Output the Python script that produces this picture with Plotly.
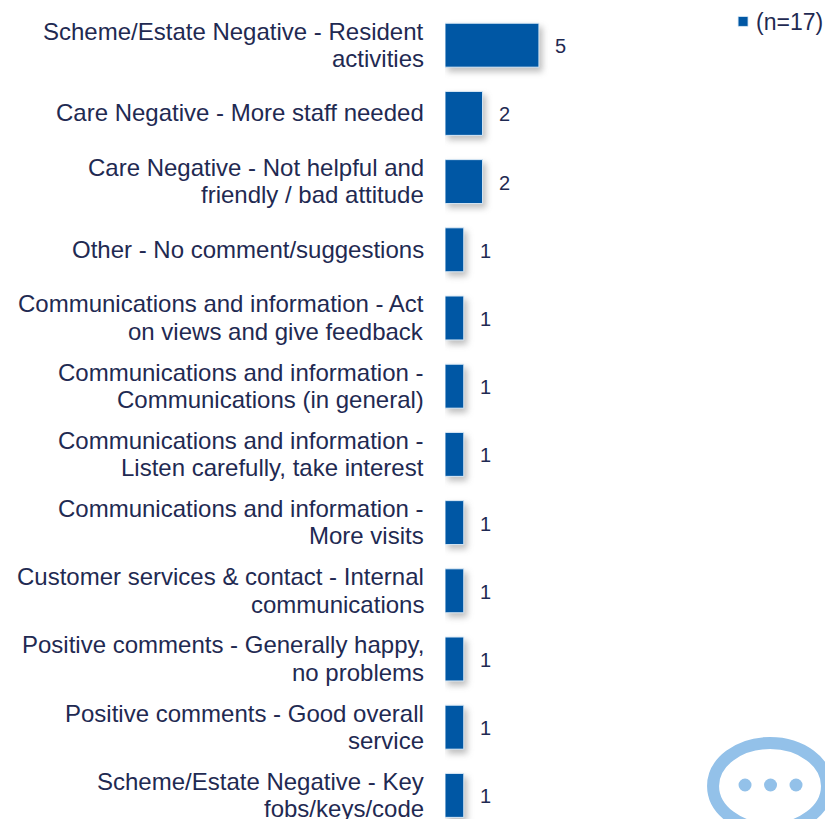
import plotly.graph_objects as go

categories = [
    "Scheme/Estate Negative - Resident<br>activities",
    "Care Negative - More staff needed",
    "Care Negative - Not helpful and<br>friendly / bad attitude",
    "Other - No comment/suggestions",
    "Communications and information - Act<br>on views and give feedback",
    "Communications and information -<br>Communications (in general)",
    "Communications and information -<br>Listen carefully, take interest",
    "Communications and information -<br>More visits",
    "Customer services & contact - Internal<br>communications",
    "Positive comments - Generally happy,<br>no problems",
    "Positive comments - Good overall<br>service",
    "Scheme/Estate Negative - Key<br>fobs/keys/code",
]
values = [5, 2, 2, 1, 1, 1, 1, 1, 1, 1, 1, 1]
series_name = "(n=17)"

NAVY = "#1f2a52"
BLUE = "#0057a4"
BUBBLE = "#93c1e9"
W, H = 825, 819
L = 444.8
UNIT = 18.8
STEP = 68.2
FIRST = 45.2
LINE = 27.4

fig = go.Figure(go.Bar(
    x=values, y=categories, orientation="h", name=series_name,
    width=0.645, marker=dict(color=BLUE, line=dict(color="#dcebf7", width=1)),
    showlegend=True,
))

annotations = [
    dict(x=v, y=c, xref="x", yref="y", text=str(v), showarrow=False,
         xanchor="left", xshift=14.5, yshift=-1, font=dict(size=20, color=NAVY))
    for c, v in zip(categories, values)
]
for c in categories:
    lines = c.split("<br>")
    for i, line in enumerate(lines):
        annotations.append(dict(
            x=0, y=c, xref="x", yref="y", text=line, showarrow=False,
            xanchor="right", xshift=-19.5,
            yshift=((len(lines) - 1) / 2 - i) * LINE + 0.5,
            font=dict(size=24, color=NAVY)))

def px(x): return (x - L) / (W - L)
def py(y): return 1 - y / H

shapes = [
    dict(type="circle", xref="paper", yref="paper", layer="above",
         x0=px(713), x1=px(827), y0=py(743), y1=py(829),
         line=dict(color=BUBBLE, width=12), fillcolor="white"),
]
for cx in (745, 770.5, 796):
    shapes.append(dict(type="circle", xref="paper", yref="paper", layer="above",
                       x0=px(cx - 6.5), x1=px(cx + 6.5), y0=py(785 - 6.5), y1=py(785 + 6.5),
                       line=dict(width=0), fillcolor=BUBBLE))

fig.update_layout(
    width=W, height=H, autosize=False,
    margin=dict(l=L, r=0, t=0, b=0, autoexpand=False),
    paper_bgcolor="white", plot_bgcolor="white",
    font=dict(family="Liberation Sans, Arial, sans-serif", color=NAVY),
    annotations=annotations, shapes=shapes,
    legend=dict(x=px(716), xanchor="left", y=py(0), yanchor="top",
                bgcolor="rgba(0,0,0,0)", font=dict(size=23, color=NAVY),
                borderwidth=0, itemwidth=30),
    xaxis=dict(range=[0, (W - L) / UNIT], visible=False, fixedrange=True),
    yaxis=dict(
        type="category", categoryorder="array", categoryarray=categories,
        range=[(H - FIRST) / STEP, -FIRST / STEP],
        showgrid=False, zeroline=False, showline=False, ticks="",
        showticklabels=False,
    ),
)

post = """
document.body.style.margin='0';
document.querySelectorAll('.barlayer .point path').forEach(function(p){
  p.style.filter='drop-shadow(3px 4px 3px rgba(70,70,70,0.35))';
});
document.querySelectorAll('.legend .traces .layers path').forEach(function(p){
  var t=p.getAttribute('transform')||'';
  p.setAttribute('transform','translate(7 0) '+t+' scale(.83)');
});
"""
fig.write_html("out.html", post_script=post, config={"displayModeBar": False})
